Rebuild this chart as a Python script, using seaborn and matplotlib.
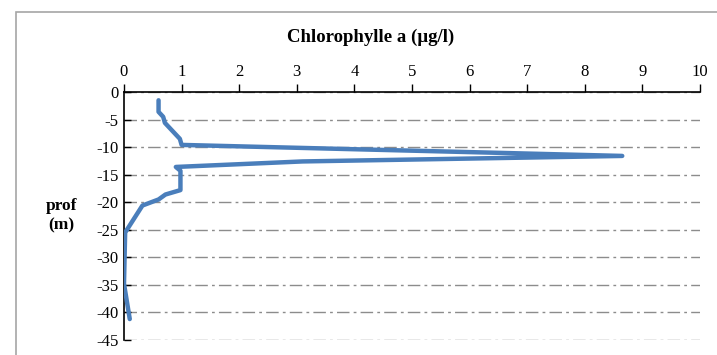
import matplotlib
matplotlib.use("Agg")
import matplotlib.pyplot as plt
import seaborn as sns
import pandas as pd
from matplotlib.patches import Rectangle

# Chlorophylle a profile
chl = [0.60, 0.60, 0.68, 0.71, 0.97, 1.00, 8.65, 3.10, 0.90, 0.98, 0.98, 0.72, 0.60, 0.32, 0.02, 0.00, 0.10]
prof = [-1.5, -3.6, -4.5, -5.6, -8.5, -9.6, -11.6, -12.6, -13.6, -14.3, -17.8, -18.6, -19.5, -20.6, -25.5, -34.8, -41.2]
x_ticks = list(range(0, 11))
y_ticks = list(range(0, -50, -5))

df = pd.DataFrame({"chl": chl, "prof": prof})

sns.set_theme(style="white")
plt.rcParams["font.family"] = ["Liberation Serif", "DejaVu Serif"]
plt.rcParams["axes.unicode_minus"] = False

fig = plt.figure(figsize=(7.17, 3.55), dpi=100)
ax = fig.add_axes([124 / 717, 1 - 340 / 355, 576 / 717, 248 / 355])

# outer chart frame
fig.patches.append(Rectangle((16 / 717, -0.05), 1.1, 1 - 12 / 355 + 0.05, transform=fig.transFigure,
                             fill=False, edgecolor="#a6a6a6", linewidth=1.2))

for y in y_ticks:
    ax.axhline(y, color="#8c8c8c", linestyle=(0, (9, 3, 2, 3)), linewidth=1.0, zorder=0)

sns.lineplot(data=df, x="chl", y="prof", sort=False, estimator=None, color="#4a7ebb",
             linewidth=3.2, ax=ax, zorder=3)

ax.set_xlim(0, 10)
ax.set_ylim(-45, 0)
ax.xaxis.tick_top()
ax.set_xticks(x_ticks)
ax.set_yticks(y_ticks)
ax.tick_params(axis="x", direction="out", length=6, width=1, color="black", labelcolor="black",
               labelsize=12, pad=3)
ax.tick_params(axis="y", direction="in", length=5, width=1, color="black", labelcolor="black",
               labelsize=12, pad=4, left=True)
ax.set_xlabel("")
ax.set_ylabel("")
for s in ["right", "bottom"]:
    ax.spines[s].set_visible(False)
for s in ["top", "left"]:
    ax.spines[s].set_color("black")
    ax.spines[s].set_linewidth(1.2)

fig.text(371 / 717, 1 - 37 / 355, "Chlorophylle a (µg/l)", ha="center", va="center",
         fontsize=13.5, fontweight="bold", color="black")
fig.text(61 / 717, 1 - 216 / 355, "prof\n(m)", ha="center", va="center",
         fontsize=12.5, fontweight="bold", linespacing=1.3, color="black")

fig.savefig("out.png", dpi=100)
